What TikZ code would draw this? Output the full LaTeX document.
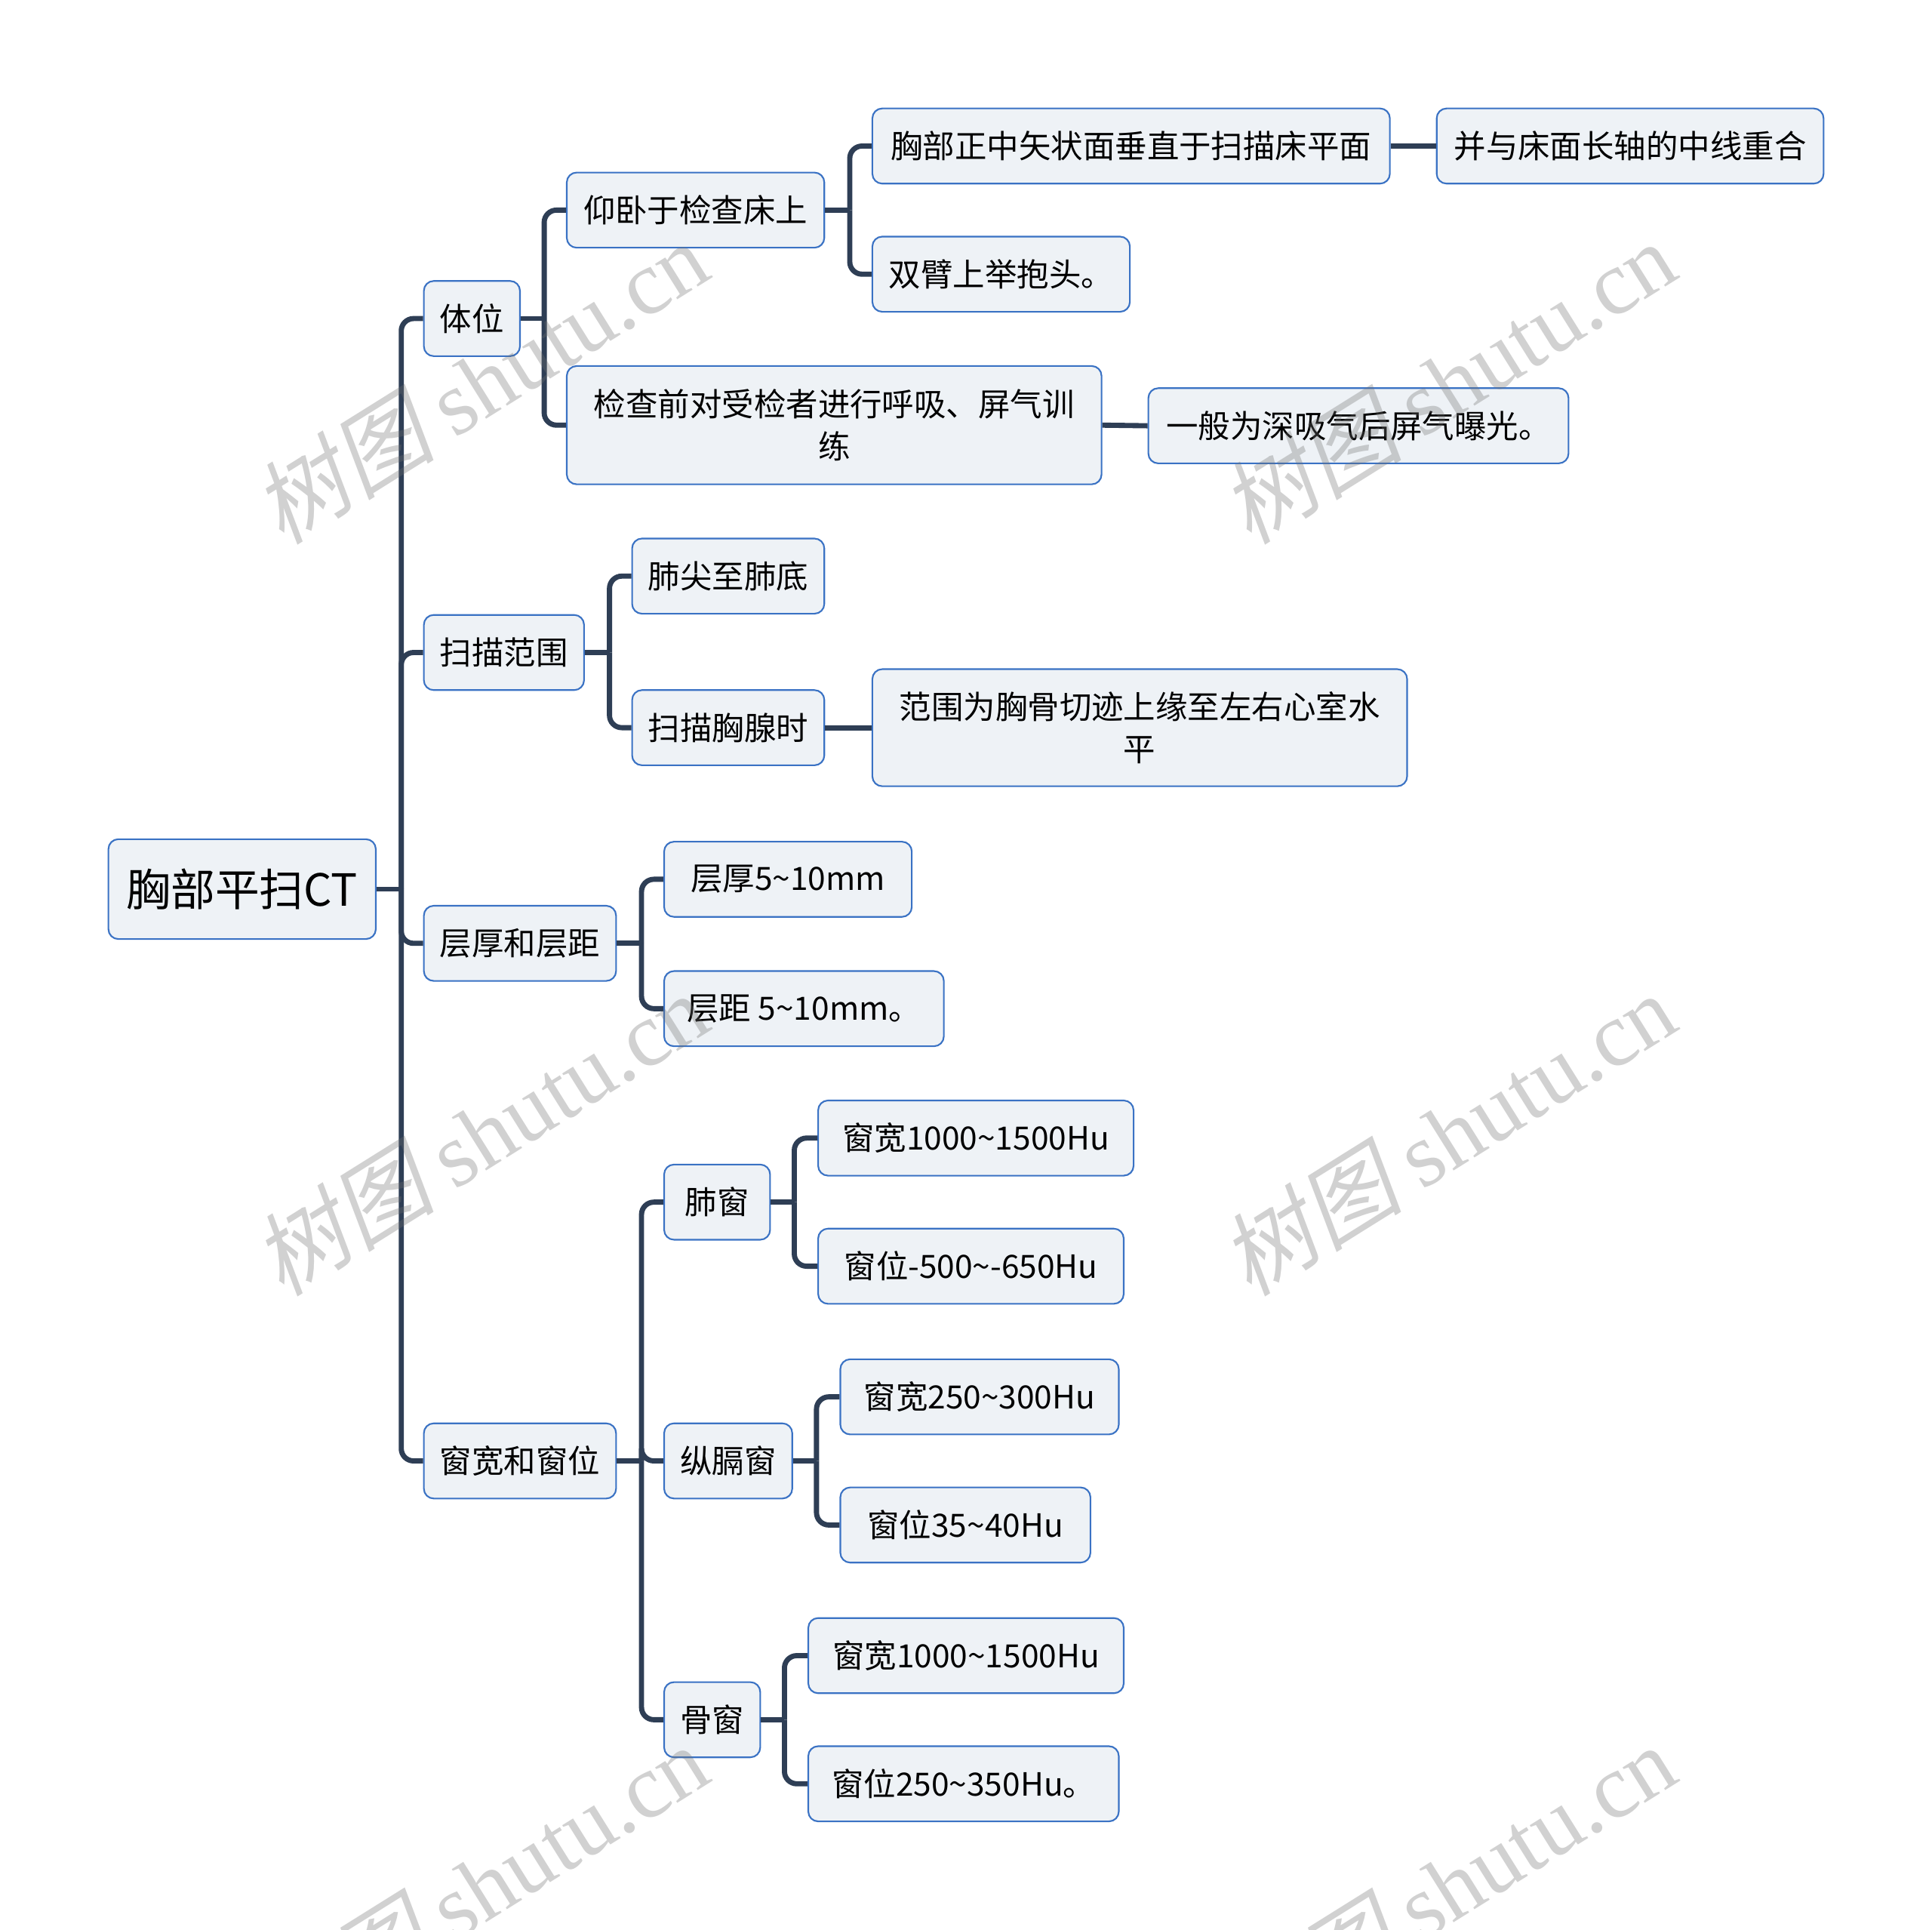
\documentclass[tikz,border=0pt]{standalone}
\usepackage{fontspec}
\setmainfont{Noto Sans CJK SC}
\newfontfamily\wmcjk[FakeSlant=0.2]{Noto Sans CJK SC}
\newfontfamily\wmlat{Liberation Serif}
\definecolor{boxfill}{HTML}{EEF2F6}
\definecolor{boxline}{HTML}{3A72C4}
\definecolor{conncol}{HTML}{2E3E55}
\definecolor{wmcol}{HTML}{707070}
\tikzset{
  box/.style={draw=boxline, fill=boxfill, line width=1.3pt, rounded corners=8pt,
    inner sep=0pt, align=center, font=\fontsize{26}{34}\selectfont, text=black},
  rootbox/.style={box, font=\fontsize{36}{44}\selectfont},
  conn/.style={draw=conncol, line width=4.2pt},
  branch/.style={conn, rounded corners=10pt},
  wm/.style={text=wmcol, text opacity=0.32, rotate=32, inner sep=0pt,
    font=\fontsize{74}{80}\selectfont}
}
\newcommand\mkbox[7][box]{%
  \node[#1, minimum width={#5-#3}, minimum height={#6-#4}] (#2)
    at ({(#3+#5)/2},{(#4+#6)/2}) {#7};}
\begin{document}
\begin{tikzpicture}[x=1pt,y=-1pt]
\useasboundingbox (0,0) rectangle (1568,1566);
\fill[white] (0,0) rectangle (1568,1566);
% nodes
\mkbox[rootbox]{root}{88}{681}{305}{762}{胸部平扫CT}
\mkbox{tiwei}{344}{228}{422}{289}{体位}
\mkbox{saomiao}{344}{499}{474}{560}{扫描范围}
\mkbox{cenghou}{344}{735}{500}{796}{层厚和层距}
\mkbox{chuang}{344}{1155}{500}{1216}{窗宽和窗位}
\mkbox{yangwo}{460}{140}{669}{201}{仰卧于检查床上}
\mkbox{jiancha}{460}{297}{894}{393}{检查前对受检者进行呼吸、屏气训\\练}
\mkbox{xiongbu}{708}{88}{1128}{149}{胸部正中矢状面垂直于扫描床平面}
\mkbox{shuangbi}{708}{192}{917}{253}{双臂上举抱头。}
\mkbox{bingyu}{1166}{88}{1480}{149}{并与床面长轴的中线重合}
\mkbox{yiban}{932}{315}{1273}{376}{一般为深吸气后屏气曝光。}
\mkbox{feijian}{513}{437}{669}{498}{肺尖至肺底}
\mkbox{xiongxian}{513}{560}{669}{621}{扫描胸腺时}
\mkbox{fanwei}{708}{543}{1142}{638}{范围为胸骨切迹上缘至左右心室水\\平}
\mkbox{ch1}{539}{683}{740}{744}{层厚5\textasciitilde10mm}
\mkbox{ch2}{539}{788}{766}{849}{层距 5\textasciitilde10mm。}
\mkbox{feichuang}{539}{945}{625}{1006}{肺窗}
\mkbox{zongge}{539}{1155}{643}{1216}{纵膈窗}
\mkbox{guchuang}{539}{1365}{617}{1426}{骨窗}
\mkbox{fc1}{664}{893}{920}{954}{窗宽1000\textasciitilde1500Hu}
\mkbox{fc2}{664}{997}{912}{1058}{窗位-500\textasciitilde-650Hu}
\mkbox{zg1}{682}{1103}{908}{1164}{窗宽250\textasciitilde300Hu}
\mkbox{zg2}{682}{1207}{885}{1268}{窗位35\textasciitilde40Hu}
\mkbox{gc1}{656}{1313}{912}{1374}{窗宽1000\textasciitilde1500Hu}
\mkbox{gc2}{656}{1417}{908}{1478}{窗位250\textasciitilde350Hu。}
% connectors
\coordinate (t0) at ([xshift=20pt]root.east);
\draw[conn] (root.east) -- (t0);
\foreach \c in {tiwei,saomiao,cenghou,chuang} \draw[branch] (t0) |- (\c.west);
\coordinate (t1) at ([xshift=19pt]tiwei.east);
\draw[conn] (tiwei.east) -- (t1);
\foreach \c in {yangwo,jiancha} \draw[branch] (t1) |- (\c.west);
\coordinate (t2) at ([xshift=20pt]yangwo.east);
\draw[conn] (yangwo.east) -- (t2);
\foreach \c in {xiongbu,shuangbi} \draw[branch] (t2) |- (\c.west);
\draw[conn] (xiongbu.east) -- (bingyu.west);
\draw[conn] (jiancha.east) -- (yiban.west);
\coordinate (t3) at ([xshift=20pt]saomiao.east);
\draw[conn] (saomiao.east) -- (t3);
\foreach \c in {feijian,xiongxian} \draw[branch] (t3) |- (\c.west);
\draw[conn] (xiongxian.east) -- (fanwei.west);
\coordinate (t4) at ([xshift=20pt]cenghou.east);
\draw[conn] (cenghou.east) -- (t4);
\foreach \c in {ch1,ch2} \draw[branch] (t4) |- (\c.west);
\coordinate (t5) at ([xshift=20pt]chuang.east);
\draw[conn] (chuang.east) -- (t5);
\foreach \c in {feichuang,zongge,guchuang} \draw[branch] (t5) |- (\c.west);
\coordinate (t6) at ([xshift=19pt]feichuang.east);
\draw[conn] (feichuang.east) -- (t6);
\foreach \c in {fc1,fc2} \draw[branch] (t6) |- (\c.west);
\coordinate (t7) at ([xshift=19pt]zongge.east);
\draw[conn] (zongge.east) -- (t7);
\foreach \c in {zg1,zg2} \draw[branch] (t7) |- (\c.west);
\coordinate (t8) at ([xshift=19pt]guchuang.east);
\draw[conn] (guchuang.east) -- (t8);
\foreach \c in {gc1,gc2} \draw[branch] (t8) |- (\c.west);
% watermarks
\foreach \n/\x/\y in {1/390/310, 2/1175/310, 3/390/920, 4/1175/920, 5/390/1530, 6/1175/1530}
  \node[wm] (wm\n) at (\x,\y) {{\wmcjk 树图} {\wmlat shutu.cn}};
\end{tikzpicture}
\end{document}
